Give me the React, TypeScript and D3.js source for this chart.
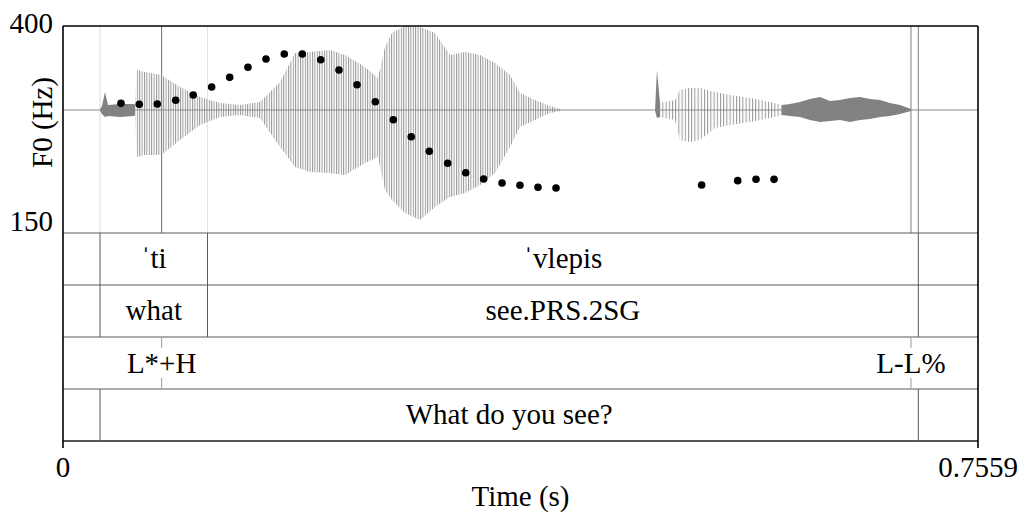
import React, { useEffect, useRef } from "react";
import * as d3 from "d3";

// time axis
const timeDomain = [0, 0.7559];
const f0Domain = [150, 400];

// F0 track (s, Hz)
const f0Times = [
  0.0479, 0.063, 0.0779, 0.0931, 0.1076, 0.1228, 0.1377, 0.1528, 0.1677, 0.1828,
  0.1977, 0.2129, 0.228, 0.2429, 0.258, 0.2729, 0.2877, 0.3026, 0.3178, 0.3327,
  0.3475, 0.3627, 0.3775, 0.3924, 0.4073, 0.5276, 0.5574, 0.5725, 0.5874,
];
const f0Hz = [
  306.6, 305.4, 305.8, 310.3, 316.7, 326.3, 338, 350.1, 360.1, 366.2,
  366.2, 359.3, 346.9, 329.1, 308.6, 286.8, 266.3, 248.7, 234.2, 222.8,
  215.2, 210.4, 207.6, 205.2, 204.3, 208, 213.2, 214.9, 214.8,
];

// waveform envelope (s, max amplitude, min amplitude)
const waveTimes = [
  0, 0.0306, 0.0322, 0.0347, 0.0372, 0.0471, 0.0587, 0.0595, 0.0611, 0.0677,
  0.081, 0.0967, 0.1132, 0.1297, 0.1462, 0.1627, 0.1793, 0.1917, 0.204, 0.2206,
  0.233, 0.2495, 0.2602, 0.266, 0.2718, 0.2825, 0.2949, 0.3073, 0.3197, 0.3321,
  0.3445, 0.3569, 0.3693, 0.3775, 0.3899, 0.4023, 0.4106, 0.4891, 0.4907, 0.4932,
  0.5056, 0.5097, 0.518, 0.5262, 0.5386, 0.551, 0.5675, 0.5841, 0.594, 0.6006,
  0.6088, 0.6171, 0.6254, 0.6336, 0.6419, 0.6502, 0.6584, 0.6667, 0.675, 0.6832,
  0.6915, 0.7005, 0.7559,
];
const waveMax = [
  0.01, 0.01, 0.048, 0.214, 0.06, 0.071, 0.071, 0.06, 0.476, 0.452,
  0.417, 0.274, 0.155, 0.083, 0.06, 0.095, 0.333, 0.679, 0.69, 0.714,
  0.655, 0.512, 0.381, 0.75, 0.917, 1.0, 0.988, 0.917, 0.655, 0.69,
  0.655, 0.56, 0.417, 0.202, 0.119, 0.048, 0.012, 0.012, 0.476, 0.083,
  0.119, 0.238, 0.262, 0.262, 0.214, 0.179, 0.143, 0.095, 0.06, 0.071,
  0.095, 0.131, 0.155, 0.107, 0.119, 0.143, 0.155, 0.131, 0.119, 0.083,
  0.06, 0.012, 0.012,
];
const waveMin = [
  -0.01, -0.01, -0.048, -0.083, -0.071, -0.083, -0.071, -0.06, -0.56, -0.536,
  -0.536, -0.357, -0.179, -0.083, -0.06, -0.095, -0.44, -0.679, -0.738, -0.75,
  -0.774, -0.631, -0.56, -0.952, -1.071, -1.226, -1.31, -1.155, -1.036, -0.988,
  -0.893, -0.75, -0.44, -0.202, -0.119, -0.036, -0.012, -0.012, -0.095, -0.083,
  -0.119, -0.357, -0.381, -0.357, -0.214, -0.179, -0.143, -0.095, -0.06, -0.071,
  -0.083, -0.119, -0.143, -0.131, -0.119, -0.143, -0.119, -0.107, -0.083, -0.071,
  -0.048, -0.012, -0.012,
];
// voiced (periodic) and noisy stretches of the waveform
const voicedSpans = [
  [0.0595, 0.4106],
  [0.4932, 0.594],
];
const noiseSpans = [
  [0.0306, 0.0595],
  [0.4891, 0.4932],
  [0.594, 0.7005],
];

// annotation tiers
const syllableTier = [
  { start: 0, end: 0.0306, label: "" },
  { start: 0.0306, end: 0.1194, label: "ˈti" },
  { start: 0.1194, end: 0.7066, label: "ˈvlepis" },
  { start: 0.7066, end: 0.7559, label: "" },
];
const glossTier = [
  { start: 0, end: 0.0306, label: "" },
  { start: 0.0306, end: 0.1194, label: "what" },
  { start: 0.1194, end: 0.7066, label: "see.PRS.2SG" },
  { start: 0.7066, end: 0.7559, label: "" },
];
const toneTier = [
  { time: 0.0815, label: "L*+H" },
  { time: 0.7005, label: "L-L%" },
];
const sentenceTier = [
  { start: 0, end: 0.0306, label: "" },
  { start: 0.0306, end: 0.7066, label: "What do you see?" },
  { start: 0.7066, end: 0.7559, label: "" },
];

const W = 1019;
const H = 513;
const FONT = "'Liberation Serif', 'Times New Roman', serif";
const FS = 29;

export default function App() {
  const ref = useRef<HTMLDivElement>(null);

  useEffect(() => {
    const container = d3.select(ref.current);
    container.selectAll("*").remove();

    const svg = container
      .append("svg")
      .attr("width", W)
      .attr("height", H)
      .style("position", "absolute")
      .style("left", "0px")
      .style("top", "0px")
      .style("background", "#fff");

    const left = 63;
    const right = 978;
    const top = 26;
    const pitchBottom = 233;
    const tierH = 52;
    const tiersBottom = pitchBottom + tierH * 4;

    const x = d3.scaleLinear().domain(timeDomain).range([left, right]);
    const yF0 = d3.scaleLinear().domain(f0Domain).range([pitchBottom, top]);
    const yWave = d3.scaleLinear().domain([-1, 1]).range([194, 26]);

    const defs = svg.append("defs");
    const hatch = (id, step, color) => {
      const p = defs
        .append("pattern")
        .attr("id", id)
        .attr("patternUnits", "userSpaceOnUse")
        .attr("width", step)
        .attr("height", 20);
      p.append("line")
        .attr("x1", 0.5)
        .attr("x2", 0.5)
        .attr("y1", 0)
        .attr("y2", 20)
        .attr("stroke", color)
        .attr("stroke-width", 0.9);
    };
    hatch("hatchA", 2.4, "#8c8c8c");
    hatch("hatchB", 3.2, "#8c8c8c");

    const clip = (id, spans) => {
      const c = defs.append("clipPath").attr("id", id);
      spans.forEach(([a, b]) => {
        c.append("rect")
          .attr("x", x(a))
          .attr("width", x(b) - x(a))
          .attr("y", top)
          .attr("height", pitchBottom - top);
      });
    };
    clip("clipV0", [voicedSpans[0]]);
    clip("clipV1", [voicedSpans[1]]);
    clip("clipN", noiseSpans);
    clip("clipPlot", [timeDomain]);

    // guide lines through the pitch area
    const guides = [
      { t: syllableTier[1].start, c: "#dcdcdc", w: 1 },
      { t: toneTier[0].time, c: "#6e6e6e", w: 1 },
      { t: syllableTier[2].start, c: "#e2e2e2", w: 1 },
      { t: toneTier[1].time, c: "#bdbdbd", w: 2 },
      { t: syllableTier[2].end, c: "#808080", w: 1 },
    ];
    svg
      .append("g")
      .selectAll("line")
      .data(guides)
      .join("line")
      .attr("x1", (d) => x(d.t))
      .attr("x2", (d) => x(d.t))
      .attr("y1", top)
      .attr("y2", pitchBottom)
      .attr("stroke", (d) => d.c)
      .attr("stroke-width", (d) => d.w);

    // waveform
    const env = waveTimes.map((t, i) => ({ t, hi: waveMax[i], lo: waveMin[i] }));
    const area = d3
      .area()
      .x((d) => x(d.t))
      .y0((d) => yWave(d.lo))
      .y1((d) => yWave(d.hi));
    const wave = svg.append("g").attr("clip-path", "url(#clipPlot)");
    wave
      .append("line")
      .attr("x1", left)
      .attr("x2", right)
      .attr("y1", yWave(0))
      .attr("y2", yWave(0))
      .attr("stroke", "#8a8a8a")
      .attr("stroke-width", 1.2);
    wave
      .append("path")
      .datum(env)
      .attr("d", area)
      .attr("fill", "url(#hatchA)")
      .attr("clip-path", "url(#clipV0)");
    wave
      .append("path")
      .datum(env)
      .attr("d", area)
      .attr("fill", "url(#hatchB)")
      .attr("clip-path", "url(#clipV1)");
    wave
      .append("path")
      .datum(env)
      .attr("d", area)
      .attr("fill", "#828282")
      .attr("clip-path", "url(#clipN)");

    // F0 points
    svg
      .append("g")
      .selectAll("circle")
      .data(f0Times.map((t, i) => ({ t, hz: f0Hz[i] })))
      .join("circle")
      .attr("cx", (d) => x(d.t))
      .attr("cy", (d) => yF0(d.hz))
      .attr("r", 3.8)
      .attr("fill", "#000");

    // tiers
    const tierLine = "#5a5a5a";
    const tg = svg.append("g");
    [0, 1, 2, 3].forEach((k) => {
      tg.append("line")
        .attr("x1", left)
        .attr("x2", right)
        .attr("y1", pitchBottom + k * tierH)
        .attr("y2", pitchBottom + k * tierH)
        .attr("stroke", tierLine)
        .attr("stroke-width", 1.2);
    });
    tg.append("line")
      .attr("x1", left)
      .attr("x2", right)
      .attr("y1", tiersBottom)
      .attr("y2", tiersBottom)
      .attr("stroke", "#555")
      .attr("stroke-width", 2);

    const tierText = (label, px, py) =>
      tg
        .append("text")
        .attr("x", px)
        .attr("y", py)
        .attr("text-anchor", "middle")
        .attr("font-family", FONT)
        .attr("font-size", FS)
        .attr("fill", "#000")
        .text(label);

    const drawIntervals = (tier, k) => {
      const y0 = pitchBottom + k * tierH;
      tier.slice(1).forEach((d) => {
        tg.append("line")
          .attr("x1", x(d.start))
          .attr("x2", x(d.start))
          .attr("y1", y0)
          .attr("y2", y0 + tierH)
          .attr("stroke", tierLine)
          .attr("stroke-width", 1);
      });
      tier
        .filter((d) => d.label)
        .forEach((d) => tierText(d.label, x((d.start + d.end) / 2), y0 + 35));
    };
    drawIntervals(syllableTier, 0);
    drawIntervals(glossTier, 1);
    drawIntervals(sentenceTier, 3);

    const y2 = pitchBottom + 2 * tierH;
    toneTier.forEach((d) => {
      [
        [y2, y2 + 11],
        [y2 + tierH - 11, y2 + tierH],
      ].forEach(([a, b]) => {
        tg.append("line")
          .attr("x1", x(d.time))
          .attr("x2", x(d.time))
          .attr("y1", a)
          .attr("y2", b)
          .attr("stroke", "#9a9a9a")
          .attr("stroke-width", 1);
      });
      tierText(d.label, x(d.time), y2 + 35.5);
    });

    // frame and axes
    const frame = svg.append("g").attr("stroke", "#000").attr("stroke-width", 1.6);
    frame.append("line").attr("x1", left).attr("x2", right).attr("y1", top).attr("y2", top);
    frame.append("line").attr("x1", left).attr("x2", left).attr("y1", top).attr("y2", tiersBottom + 7);
    frame.append("line").attr("x1", right).attr("x2", right).attr("y1", top).attr("y2", tiersBottom + 7);

    const label = (txt, px, py, anchor = "middle") =>
      svg
        .append("text")
        .attr("x", px)
        .attr("y", py)
        .attr("text-anchor", anchor)
        .attr("font-family", FONT)
        .attr("font-size", FS)
        .attr("fill", "#000")
        .text(txt);

    label(String(f0Domain[1]), 53, 33, "end");
    label(String(f0Domain[0]), 53, 231, "end");
    label(String(timeDomain[0]), x(timeDomain[0]), 477);
    label(String(timeDomain[1]), x(timeDomain[1]), 477);
    label("Time (s)", (left + right) / 2, 506);
    label("F0 (Hz)", 0, 0).attr("transform", `translate(52, ${(top + pitchBottom) / 2 - 7}) rotate(-90)`);
  }, []);

  return <div ref={ref} style={{ width: W, height: H }}></div>;
}
